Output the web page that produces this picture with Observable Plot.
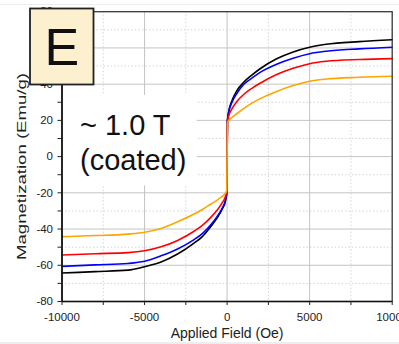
<!DOCTYPE html>
<html>
<head>
<meta charset="utf-8">
<script src="https://cdn.jsdelivr.net/npm/d3@7"></script>
<script src="https://cdn.jsdelivr.net/npm/@observablehq/plot@0.6"></script>
<style>
  html, body { margin: 0; padding: 0; background: #fff; overflow: hidden; }
  #wrap { position: relative; z-index: 0; width: 399px; height: 344px; }
  #wrap > svg { position: absolute; left: 0; top: 0; }
  #wrap::before { content: ""; position: absolute; z-index: -1; left: 0; right: 0; top: 4px; height: 1px; background: #ececec; }
  #wrap::after { content: ""; position: absolute; z-index: -1; left: 0; right: 0; bottom: 0; height: 2px; background: #eeeeee; }
</style>
</head>
<body>
<div id="wrap"></div>
<script>
// Applied field (Oe) at which each magnetization curve is sampled
const field = [-10000, -8000, -6000, -5000, -4000, -3000, -2000, -1500, -1000, -600, -300, -100, -20,
               20, 100, 300, 600, 1000, 1500, 2000, 3000, 4000, 5000, 6000, 8000, 10000];

// Magnetization (emu/g) for the four samples
const blackM  = [-64.3, -63.5, -62.7, -60.8, -58.2, -53.8, -47.8, -44.2, -38.7, -33.8, -29.0, -24.5, -20.0,
                  19.8, 25.0, 31.0, 36.5, 41.0, 45.0, 48.5, 54.0, 57.8, 60.4, 62.0, 63.5, 64.5];
const blueM   = [-60.6, -59.8, -59.0, -57.8, -54.8, -51.0, -45.8, -42.5, -37.8, -33.0, -28.5, -24.0, -20.0,
                  19.6, 24.5, 30.0, 35.0, 39.8, 43.3, 46.5, 51.0, 54.3, 56.8, 58.2, 59.5, 60.4];
const redM    = [-54.3, -53.6, -53.0, -52.0, -49.8, -46.3, -41.2, -38.0, -33.7, -29.5, -25.5, -22.0, -19.0,
                  19.0, 22.5, 26.5, 30.5, 34.3, 37.7, 40.5, 45.3, 48.8, 51.3, 52.6, 53.6, 54.1];
const orangeM = [-44.2, -43.6, -42.8, -41.8, -39.7, -36.0, -31.7, -29.2, -26.3, -24.0, -22.0, -20.2, -18.8,
                  18.5, 20.0, 21.7, 23.8, 26.5, 29.5, 32.0, 36.0, 39.2, 41.6, 42.8, 43.8, 44.4];

const seriesNames  = ["black", "blue", "red", "orange"];
const seriesValues = [blackM, blueM, redM, orangeM];
const seriesColors = ["#111111", "#1f1fd6", "#d42a2e", "#f29a2e"];

// Axis ticks
const xTicks      = [-10000, -5000, 0, 5000, 10000];
const xTickLabels = ["-10000", "-5000", "0", "5000", "10000"];
const xMinorTicks = [-7500, -2500, 2500, 7500];
const yTicks      = [-80, -60, -40, -20, 0, 20, 40, 60, 80];
const yTickLabels = ["-80", "-60", "-40", "-20", "0", "20", "40", "60", "80"];
const yMinorTicks = [-70, -50, -30, -10, 10, 30, 50, 70];

const rows = seriesNames.flatMap((name, i) =>
  field.map((h, j) => ({series: name, H: h, M: seriesValues[i][j]}))
);

// Annotation: white note panel and its two text lines
const notePanel = {x1: -10000, x2: -1800, y1: -16.2, y2: 33.8};
const noteText = "~ 1.0 T\n(coated)";

const font = "'Liberation Sans', Arial, sans-serif";

const chart = Plot.plot({
  width: 399,
  height: 344,
  marginLeft: 61.5,
  marginRight: 7.3,
  marginTop: 11.2,
  marginBottom: 43,
  style: {fontFamily: font, background: "transparent", color: "#222"},
  x: {domain: [-10000, 10000]},
  y: {domain: [-80, 80]},
  color: {domain: seriesNames, range: seriesColors},
  marks: [
    Plot.gridY(yMinorTicks, {stroke: "#d6d6d6", strokeOpacity: 1, strokeDasharray: "1.5,2"}),
    Plot.gridX(xMinorTicks, {stroke: "#d6d6d6", strokeOpacity: 1, strokeDasharray: "1.5,2"}),
    Plot.gridY(yTicks, {stroke: "#c4c4c4", strokeOpacity: 1}),
    Plot.gridX(xTicks, {stroke: "#c4c4c4", strokeOpacity: 1}),
    Plot.rect([notePanel], {x1: "x1", x2: "x2", y1: "y1", y2: "y2", fill: "white"}),
    Plot.line(rows, {x: "H", y: "M", z: "series", stroke: "series", strokeWidth: 1.6, curve: "monotone-x"}),
    Plot.frame({stroke: "#333", strokeWidth: 1.2}),
    Plot.ruleX([-10000], {stroke: "#111", strokeWidth: 1.6}),
    Plot.ruleY([-80], {stroke: "#111", strokeWidth: 1.6}),
    Plot.axisY(yMinorTicks, {tickSize: 4, tickFormat: () => "", label: null, stroke: "#222"}),
    Plot.axisY(yTicks, {tickSize: 4, tickPadding: 5, fontSize: 11.5, label: null, stroke: "#222",
      tickFormat: (d) => yTickLabels[yTicks.indexOf(d)]}),
    Plot.axisX(xMinorTicks, {tickSize: 4, tickFormat: () => "", label: null, stroke: "#222"}),
    Plot.axisX(xTicks, {tickSize: 4, tickPadding: 7, fontSize: 11.5, label: null, stroke: "#222",
      tickFormat: (d) => xTickLabels[xTicks.indexOf(d)]}),
    Plot.text([noteText], {x: -8910, y: -7.35, text: (d) => d, textAnchor: "start", lineAnchor: "bottom",
      lineHeight: 1.207, fontSize: 29, fill: "#111"}),
    Plot.text(["Applied Field (Oe)"], {frameAnchor: "bottom", dy: 36.5, lineAnchor: "bottom",
      text: (d) => d, fontSize: 14, fill: "#222"})
  ]
});

const wrap = document.getElementById("wrap");
wrap.appendChild(chart);

// Overlay: vertical axis title (tall, narrow face) and the panel letter in its cream box
const overlay = d3.create("svg").attr("width", 399).attr("height", 344)
  .style("pointer-events", "none");
overlay.append("text")
  .attr("transform", "translate(25.5,166.5) rotate(-90) scale(1.43,1)")
  .attr("text-anchor", "middle")
  .attr("font-family", font).attr("font-size", 13).attr("fill", "#222")
  .text("Magnetization (Emu/g)");
overlay.append("rect").attr("x", 30).attr("y", 8.5).attr("width", 63.5).attr("height", 76)
  .attr("fill", "#fdf0cf").attr("stroke", "#222").attr("stroke-width", 1.8);
overlay.append("text").attr("x", 61.8).attr("y", 65).attr("text-anchor", "middle")
  .attr("font-family", font).attr("font-size", 52).attr("fill", "#111").text("E");
wrap.appendChild(overlay.node());
</script>
</body>
</html>
